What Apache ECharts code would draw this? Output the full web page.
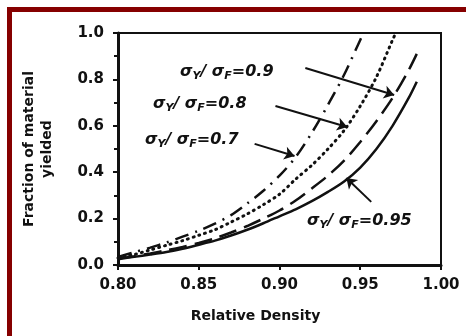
<!DOCTYPE html>
<html>
<head>
<meta charset="utf-8">
<script src="https://cdn.jsdelivr.net/npm/echarts@6/dist/echarts.min.js"></script>
<style>
  html, body { margin: 0; padding: 0; background: #fff; }
  #frame { position: absolute; left: 7px; top: 7px; width: 470px; height: 340px;
           border-left: 5px solid #860000; border-top: 5px solid #860000; }
  #chart { position: absolute; left: 0; top: 0; width: 466px; height: 336px; }
</style>
</head>
<body>
<div id="frame"></div>
<div id="chart"></div>
<script>
// relative density (x) and fraction of material yielded (y), one pair of arrays per ratio
const dens95 = [0.80, 0.81, 0.82, 0.83, 0.84, 0.85, 0.86, 0.87, 0.88, 0.89, 0.90, 0.91, 0.92, 0.93, 0.94, 0.95, 0.96, 0.97, 0.98, 0.985];
const frac95 = [0.025, 0.035, 0.045, 0.056, 0.07, 0.087, 0.105, 0.127, 0.152, 0.18, 0.21, 0.24, 0.275, 0.315, 0.36, 0.42, 0.50, 0.60, 0.72, 0.79];

const dens90 = [0.80, 0.81, 0.82, 0.83, 0.84, 0.85, 0.86, 0.87, 0.88, 0.89, 0.90, 0.91, 0.92, 0.93, 0.94, 0.95, 0.96, 0.97, 0.98, 0.985];
const frac90 = [0.028, 0.038, 0.05, 0.063, 0.078, 0.095, 0.115, 0.14, 0.168, 0.2, 0.235, 0.278, 0.33, 0.385, 0.45, 0.53, 0.62, 0.72, 0.84, 0.91];

const dens80 = [0.80, 0.81, 0.82, 0.83, 0.84, 0.85, 0.86, 0.87, 0.88, 0.89, 0.90, 0.91, 0.92, 0.93, 0.94, 0.95, 0.96, 0.97, 0.972];
const frac80 = [0.03, 0.045, 0.065, 0.085, 0.105, 0.128, 0.152, 0.185, 0.22, 0.26, 0.305, 0.37, 0.43, 0.50, 0.58, 0.685, 0.81, 0.97, 1.0];

const dens70 = [0.80, 0.81, 0.82, 0.83, 0.84, 0.85, 0.86, 0.87, 0.88, 0.89, 0.90, 0.91, 0.92, 0.93, 0.94, 0.95, 0.952];
const frac70 = [0.035, 0.055, 0.075, 0.097, 0.122, 0.148, 0.178, 0.215, 0.265, 0.32, 0.385, 0.465, 0.57, 0.69, 0.82, 0.97, 1.0];

// annotation arrows: [fromX, fromY, toX, toY] in data units
const arrows = [
  [0.916, 0.849, 0.971, 0.733],
  [0.8975, 0.685, 0.942, 0.595],
  [0.8846, 0.522, 0.9093, 0.470],
  [0.9568, 0.272, 0.9414, 0.375],
];
const ratioLabels = ['0.9', '0.8', '0.7', '0.95'];

const FONT = '"DejaVu Sans", Verdana, sans-serif';
const INK = '#111';
const zip = (xs, ys) => xs.map((x, i) => [x, ys[i]]);

const chart = echarts.init(document.getElementById('chart'), null, { renderer: 'canvas' });

const labelPos = [[180, 72], [153, 104], [145, 140], [307, 221]];
const rich = {
  m: { fontSize: 16, fontWeight: 'bold', fontStyle: 'italic', fontFamily: FONT, fill: INK },
  s: { fontSize: 11, fontWeight: 'bold', fontStyle: 'italic', fontFamily: FONT, fill: INK,
       verticalAlign: 'bottom', padding: [9, 0, 0, 0] },
};

chart.setOption({
  animation: false,
  grid: { left: 118, right: 25, top: 33, bottom: 71, show: true, borderColor: INK, borderWidth: 2 },
  xAxis: {
    type: 'value',
    min: 0.8, max: 1.0, interval: 0.05,
    name: 'Relative Density',
    nameLocation: 'middle',
    nameGap: 44,
    nameTextStyle: { fontFamily: FONT, fontWeight: 'bold', fontSize: 14, color: INK, padding: [0, 48, 0, 0] },
    axisLine: { lineStyle: { color: INK, width: 3 } },
    axisTick: { length: 5, lineStyle: { color: INK, width: 2 } },
    axisLabel: { fontFamily: FONT, fontWeight: 'bold', fontSize: 15, color: INK, margin: 13,
                 formatter: (v) => v.toFixed(2) },
    splitLine: { show: false },
  },
  yAxis: {
    type: 'value',
    min: 0, max: 1.0, interval: 0.2,
    name: 'Fraction of material\nyielded',
    nameLocation: 'middle',
    nameGap: 62,
    nameTextStyle: { fontFamily: FONT, fontWeight: 'bold', fontSize: 14, color: INK, lineHeight: 18 },
    axisLine: { lineStyle: { color: INK, width: 3 } },
    axisTick: { length: 5, lineStyle: { color: INK, width: 2 } },
    minorTick: { show: true, splitNumber: 2, length: 4, lineStyle: { color: INK, width: 2 } },
    axisLabel: { fontFamily: FONT, fontWeight: 'bold', fontSize: 15, color: INK, margin: 14,
                 formatter: (v) => v.toFixed(1) },
    splitLine: { show: false },
  },
  series: [
    {
      type: 'line', data: zip(dens95, frac95), smooth: 0.3, symbol: 'none',
      lineStyle: { color: INK, width: 2.5 },
      markLine: {
        silent: true, symbol: ['none', 'arrow'], symbolSize: 10,
        label: { show: false },
        lineStyle: { color: INK, width: 2, type: 'solid' },
        itemStyle: { color: INK },
        data: arrows.map((a) => [{ coord: [a[0], a[1]] }, { coord: [a[2], a[3]] }]),
      },
    },
    {
      type: 'line', data: zip(dens90, frac90), smooth: 0.3, symbol: 'none',
      lineStyle: { color: INK, width: 2.5, type: [18, 8] },
    },
    {
      type: 'line', data: zip(dens80, frac80), smooth: 0.3, symbol: 'none',
      lineStyle: { color: INK, width: 3, type: [1, 5], cap: 'round' },
    },
    {
      type: 'line', data: zip(dens70, frac70), smooth: 0.3, symbol: 'none',
      lineStyle: { color: INK, width: 2.5, type: [14, 7, 2, 7] },
    },
  ],
  graphic: ratioLabels.map((r, i) => ({
    type: 'text',
    x: labelPos[i][0], y: labelPos[i][1],
    style: {
      text: '{m|σ}{s|Y}{m|/ σ}{s|F}{m|=' + r + '}',
      rich: rich,
      verticalAlign: 'middle',
    },
  })),
});
</script>
</body>
</html>
